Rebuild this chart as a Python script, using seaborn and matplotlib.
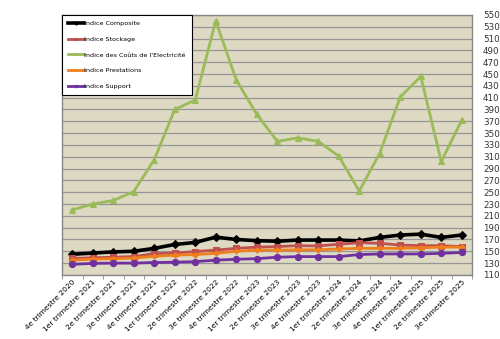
import matplotlib
matplotlib.use("Agg")
import matplotlib.pyplot as plt
import seaborn as sns
import pandas as pd
import numpy as np

categories = [
    "4e trimestre 2020", "1er trimestre 2021", "2e trimestre 2021", "3e trimestre 2021",
    "4e trimestre 2021", "1er trimestre 2022", "2e trimestre 2022", "3e trimestre 2022",
    "4e trimestre 2022", "1er trimestre 2023", "2e trimestre 2023", "3e trimestre 2023",
    "4e trimestre 2023", "1er trimestre 2024", "2e trimestre 2024", "3e trimestre 2024",
    "4e trimestre 2024", "1er trimestre 2025", "2e trimestre 2025", "3e trimestre 2025",
]
composite = [145, 147, 149, 150, 155, 161.5, 165, 174, 170, 168, 167, 169, 169, 169, 167.5, 173.5, 177.5, 179, 173.5, 177.5]
stockage = [138, 139, 140, 141, 146, 147, 149.5, 152, 155, 157, 158, 159.5, 159, 162, 164.5, 163.5, 160.5, 159.5, 159.5, 158]
electricite = [220, 230, 236, 251, 305, 390, 406, 540, 440, 382, 336, 342, 336, 311, 252, 316, 411, 446, 302, 372]
prestations = [135, 136.5, 137.5, 138.5, 141.5, 143.5, 144.5, 146.5, 150, 152, 152, 152.5, 152.5, 154, 155, 155, 155, 156, 157, 157]
support = [128, 129.5, 130, 130, 131, 131.5, 132.5, 135, 136.5, 137.5, 140, 141, 141, 141, 144.5, 145.5, 145.5, 145.5, 146.5, 148]
y_ticks = list(range(110, 551, 20))

series = [
    ("Indice Composite", composite, "black", "D", 2.6, 4.5),
    ("Indice Stockage", stockage, "#C0504D", "s", 2.0, 4.0),
    ("Indice des Coûts de l'Electricité", electricite, "#9BBB59", "^", 2.0, 4.0),
    ("Indice Prestations", prestations, "#F07F1E", "P", 2.0, 3.5),
    ("Indice Support", support, "#7030A0", "o", 2.0, 4.5),
]

fig = plt.figure(figsize=(5.0, 3.39), dpi=100)
ax = fig.add_axes([0.124, 0.189, 0.82, 0.767])
ax.set_facecolor("#DDD9C3")

x = np.arange(len(categories))
for name, vals, color, marker, lw, ms in series:
    df = pd.DataFrame({"x": x, "y": vals})
    sns.lineplot(data=df, x="x", y="y", ax=ax, color=color, marker=marker,
                 linewidth=lw, markersize=ms, markeredgecolor=color, label=name)

ax.set_xlim(-0.5, len(categories) - 0.5)
ax.set_ylim(110, 550)
ax.set_yticks(y_ticks)
ax.yaxis.tick_right()
ax.tick_params(axis="y", length=0, labelsize=6.3, colors="#333333", pad=8)
ax.set_xticks(x)
ax.set_xticklabels(categories, rotation=45, ha="right", rotation_mode="anchor", fontsize=5.4)
ax.tick_params(axis="x", length=0, pad=3)
ax.set_xticks(np.arange(-0.5, len(categories), 1), minor=True)
ax.tick_params(axis="x", which="minor", length=3, color="#888888")
ax.grid(axis="y", color="#969696", linewidth=0.9)
ax.set_axisbelow(True)
ax.set_xlabel("")
ax.set_ylabel("")
for s in ax.spines.values():
    s.set_color("#888888")
    s.set_linewidth(1.0)

leg = ax.legend(loc="upper left", bbox_to_anchor=(0.0, 1.0), fontsize=4.6,
                frameon=True, fancybox=False, handlelength=2.6, handletextpad=0.0,
                labelspacing=1.6, borderpad=0.9, markerscale=0.4,
                borderaxespad=0.0)
leg.get_frame().set_edgecolor("black")
leg.get_frame().set_linewidth(0.8)
leg.get_frame().set_facecolor("white")
leg.get_frame().set_alpha(1.0)

fig.savefig("out.png", dpi=100)
